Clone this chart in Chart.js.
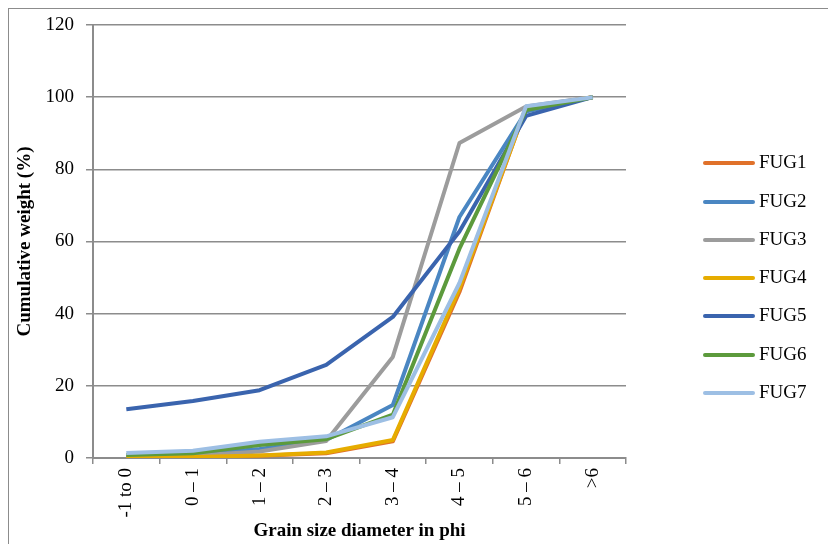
<!DOCTYPE html>
<html>
<head>
<meta charset="utf-8">
<script src="https://cdn.jsdelivr.net/npm/chart.js@4"></script>
<style>
  html, body { margin: 0; padding: 0; background: #fff; overflow: hidden; }
  #wrap { position: relative; width: 828px; height: 544px; }
  #frame { position: absolute; left: 8px; top: 8px; width: 840px; height: 560px; border: 1px solid #8c8c8c; box-sizing: border-box; }
  #chart { position: absolute; left: 0; top: 0; }
  #legend { position: absolute; left: 703px; top: 0; font-family: "Liberation Serif", serif; font-size: 19px; color: #000; }
  .item { position: absolute; left: 0; white-space: nowrap; height: 20px; }
  .swatch { position: absolute; left: 0; top: 8px; width: 52px; height: 4px; border-radius: 2px; }
  .label { position: absolute; left: 56px; top: -1px; line-height: 20px; }
</style>
</head>
<body>
<div id="wrap">
  <div id="frame"></div>
  <canvas id="chart" width="828" height="544"></canvas>
  <div id="legend"></div>
</div>
<script>
const categories = ["-1 to 0", "0 – 1", "1 – 2", "2 – 3", "3 – 4", "4 – 5", "5 – 6", ">6"];
const yTicks = [0, 20, 40, 60, 80, 100, 120];

const seriesNames = ["FUG1", "FUG2", "FUG3", "FUG4", "FUG5", "FUG6", "FUG7"];
const seriesColors = ["#E0712A", "#4A86C2", "#9C9C9C", "#E6AC00", "#3A64AE", "#5C9A3C", "#9DBFE4"];

const fug1 = [0.1, 0.3, 0.6, 1.3, 4.6, 46, 97.2, 100];
const fug2 = [0.5, 1.0, 2.5, 5.0, 14.7, 66.8, 96.0, 100];
const fug3 = [0.3, 0.6, 1.8, 4.7, 28.0, 87.3, 97.4, 100];
const fug4 = [0.1, 0.3, 0.7, 1.5, 5.0, 47, 97.0, 100];
const fug5 = [13.5, 15.8, 18.8, 25.8, 39.1, 62.8, 94.8, 100];
const fug6 = [0.8, 1.3, 3.6, 5.2, 12.0, 58, 96.4, 100];
const fug7 = [1.4, 2.0, 4.5, 6.0, 11.3, 48.5, 97.5, 100];

const seriesValues = [fug1, fug2, fug3, fug4, fug5, fug6, fug7];

const serif = "'Liberation Serif', 'Times New Roman', serif";

// later series are painted over earlier ones, like the original
const datasets = seriesNames.map((name, i) => ({
  label: name,
  data: seriesValues[i],
  order: seriesNames.length - i,
  borderColor: seriesColors[i],
  backgroundColor: seriesColors[i],
  borderWidth: 4,
  pointRadius: 0,
  tension: 0,
  fill: false,
  borderJoinStyle: "round",
}));

// html legend, kept as real text
const legendEl = document.getElementById("legend");
const legendTops = [153, 192, 230, 268, 306, 345, 383];
seriesNames.forEach((name, i) => {
  const row = document.createElement("div");
  row.className = "item";
  row.style.top = legendTops[i] + "px";
  row.innerHTML =
    '<div class="swatch" style="background:' + seriesColors[i] + '"></div>' +
    '<span class="label">' + name + "</span>";
  legendEl.appendChild(row);
});

new Chart(document.getElementById("chart"), {
  type: "line",
  data: { labels: categories, datasets },
  options: {
    responsive: false,
    animation: false,
    layout: { padding: { left: 0, right: 202, top: 25, bottom: 0 } },
    plugins: {
      legend: { display: false },
      tooltip: { enabled: false },
    },
    scales: {
      x: {
        offset: true,
        afterFit: (scale) => { scale.height = 86; },
        grid: {
          offset: true,
          drawOnChartArea: false,
          drawTicks: true,
          tickLength: 6,
          color: "#8c8c8c",
          lineWidth: 1.5,
        },
        border: { color: "#8c8c8c", width: 2 },
        ticks: {
          autoSkip: false,
          minRotation: 90,
          maxRotation: 90,
          padding: 4,
          color: "#000",
          font: { family: serif, size: 19 },
        },
        title: {
          display: true,
          text: "Grain size diameter in phi",
          color: "#000",
          font: { family: serif, size: 19, weight: "bold" },
          padding: { top: 0, bottom: 2 },
        },
      },
      y: {
        min: 0,
        max: 120,
        afterFit: (scale) => { scale.width = 93; },
        afterBuildTicks: (scale) => {
          scale.ticks = yTicks.map((v) => ({ value: v }));
        },
        grid: {
          color: "#8c8c8c",
          lineWidth: 1.5,
          tickLength: 7,
        },
        border: { color: "#8c8c8c", width: 2 },
        ticks: {
          padding: 12,
          color: "#000",
          font: { family: serif, size: 19 },
        },
        title: {
          display: true,
          text: "Cumulative weight (%)",
          color: "#000",
          font: { family: serif, size: 19, weight: "bold" },
          padding: { top: 14, bottom: 0 },
        },
      },
    },
  },
});
</script>
</body>
</html>
